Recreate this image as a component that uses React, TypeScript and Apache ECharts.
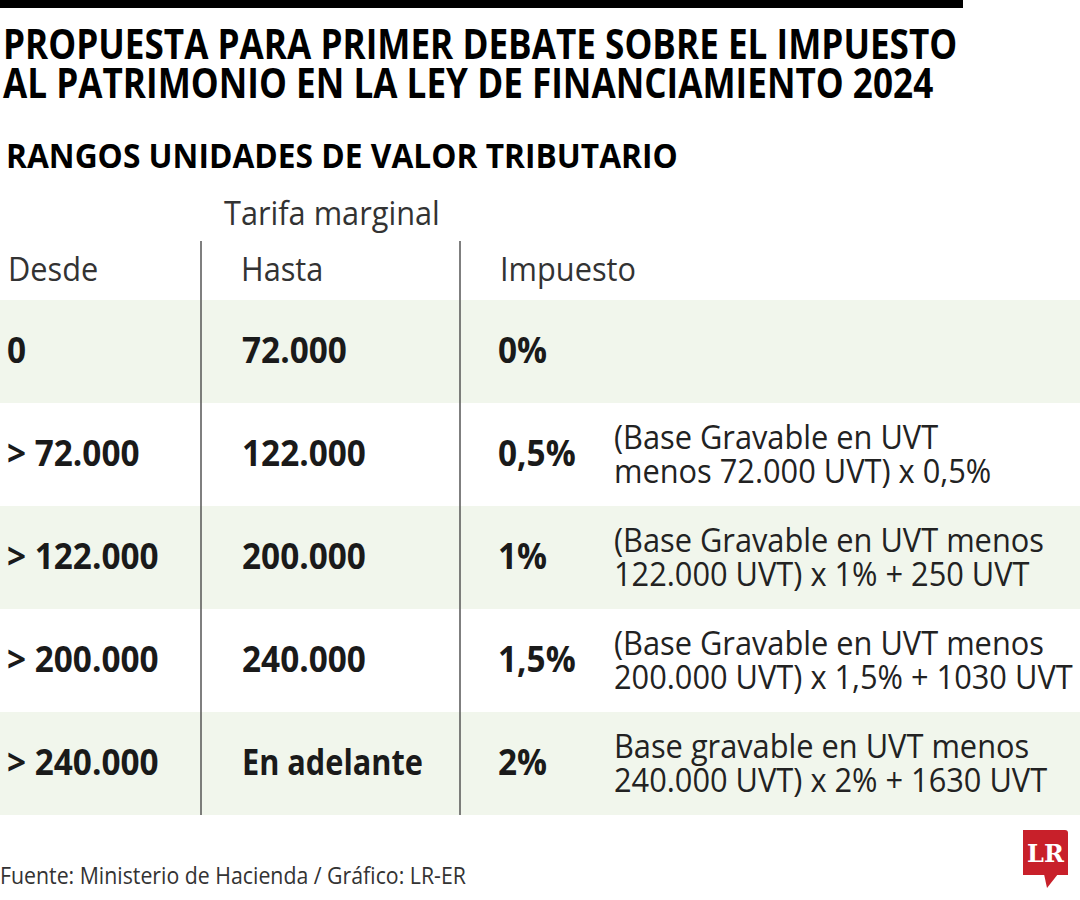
import React, { useEffect, useRef } from "react";
import * as echarts from "echarts";

const titleLines = [
  "PROPUESTA PARA PRIMER DEBATE SOBRE EL IMPUESTO",
  "AL PATRIMONIO EN LA LEY DE FINANCIAMIENTO 2024",
];
const subtitle = "RANGOS UNIDADES DE VALOR TRIBUTARIO";
const groupHeader = "Tarifa marginal";
const columnHeaders = ["Desde", "Hasta", "Impuesto"];
const desde = ["0", "> 72.000", "> 122.000", "> 200.000", "> 240.000"];
const hasta = ["72.000", "122.000", "200.000", "240.000", "En adelante"];
const tarifa = ["0%", "0,5%", "1%", "1,5%", "2%"];
const formula: string[][] = [
  [],
  ["(Base Gravable en UVT", "menos 72.000 UVT) x 0,5%"],
  ["(Base Gravable en UVT menos", "122.000 UVT) x 1% + 250 UVT"],
  ["(Base Gravable en UVT menos", "200.000 UVT) x 1,5% + 1030 UVT"],
  ["Base gravable en UVT menos", "240.000 UVT) x 2% + 1630 UVT"],
];
const source = "Fuente: Ministerio de Hacienda / Gráfico: LR-ER";
const logoText = "LR";

const FAMILY = "'Open Sans', 'Noto Sans', sans-serif";

function measure(text: string, font: string): number {
  const c = document.createElement("canvas");
  const ctx = c.getContext("2d")!;
  ctx.font = font;
  return ctx.measureText(text).width;
}

export default function App() {
  const ref = useRef<HTMLDivElement>(null);
  useEffect(() => {
    document.body.style.margin = "0";
    const chart = echarts.init(ref.current!, null, { renderer: "svg" });

    const titleFont = `bold 41px ${FAMILY}`;
    const subFont = `bold 34px ${FAMILY}`;
    const headFont = `normal 32px ${FAMILY}`;
    const boldFont = `bold 35px ${FAMILY}`;
    const descFont = `normal 32px ${FAMILY}`;
    const footFont = `normal 23px ${FAMILY}`;

    const sTitle = 954 / measure(titleLines[0], titleFont);
    const sSub = 672 / measure(subtitle, subFont);
    const sHead = 136 / measure(columnHeaders[2], headFont);
    const sBoldNum = 124 / measure(hasta[2], boldFont);
    const sBoldWord = 181 / measure(hasta[4], boldFont);
    const sDesc = 459 / measure(formula[3][1], descFont);
    const sFoot = 466 / measure(source, footFont);
    const sBold = (t: string) => (/\d/.test(t) ? sBoldNum : sBoldWord);

    const rowTop = 300;
    const rowH = 103;
    const colX = [7, 242, 498, 614];

    const txt = (
      text: string,
      x: number,
      y: number,
      font: string,
      sx: number,
      color = "#1a1a1a"
    ) => ({
      type: "text",
      x,
      y,
      scaleX: sx,
      style: { text, font, fill: color, align: "left", verticalAlign: "middle" },
    });

    const elements: any[] = [];
    elements.push({ type: "rect", shape: { x: 0, y: 0, width: 963, height: 8 }, style: { fill: "#000" } });
    titleLines.forEach((t, i) => elements.push(txt(t, 3, 43 + i * 39, titleFont, sTitle, "#000")));
    elements.push(txt(subtitle, 6, 155, subFont, sSub, "#000"));

    desde.forEach((_, i) => {
      if (i % 2 === 0) {
        elements.push({
          type: "rect",
          shape: { x: 0, y: rowTop + i * rowH, width: 1080, height: rowH },
          style: { fill: "#f1f6ec" },
        });
      }
    });
    [201, 460].forEach((x) =>
      elements.push({
        type: "line",
        shape: { x1: x, y1: 241, x2: x, y2: rowTop + desde.length * rowH },
        style: { stroke: "#555", lineWidth: 1.5 },
      })
    );

    elements.push(txt(groupHeader, 224, 212, headFont, sHead, "#333"));
    columnHeaders.forEach((h, i) =>
      elements.push(txt(h, [8, 241, 500][i], 268, headFont, sHead, "#333"))
    );

    desde.forEach((d, i) => {
      const cy = rowTop + i * rowH + rowH / 2 - 2;
      elements.push(txt(d, colX[0], cy, boldFont, sBold(d)));
      elements.push(txt(hasta[i], colX[1], cy, boldFont, sBold(hasta[i])));
      elements.push(txt(tarifa[i], colX[2], cy, boldFont, sBold(tarifa[i])));
      formula[i].forEach((line, j) =>
        elements.push(txt(line, colX[3], cy - 16 + j * 34, descFont, sDesc, "#222"))
      );
    });

    elements.push(txt(source, 0, 875, footFont, sFoot, "#333"));

    elements.push({
      type: "rect",
      shape: { x: 1023, y: 830, width: 45, height: 45, r: [0, 3, 0, 0] },
      style: { fill: "#c8202a" },
    });
    elements.push({
      type: "polygon",
      shape: { points: [[1044, 874], [1047, 888], [1058, 874]] },
      style: { fill: "#c8202a" },
    });
    elements.push({
      type: "text",
      x: 1045.5,
      y: 853,
      style: {
        text: logoText,
        font: "bold 24px 'DejaVu Serif', 'Liberation Serif', serif",
        fill: "#fff",
        align: "center",
        verticalAlign: "middle",
      },
    });

    chart.setOption({
      animation: false,
      backgroundColor: "#ffffff",
      graphic: { elements },
    });
    return () => chart.dispose();
  }, []);
  return <div ref={ref} style={{ width: 1080, height: 900 }} />;
}
